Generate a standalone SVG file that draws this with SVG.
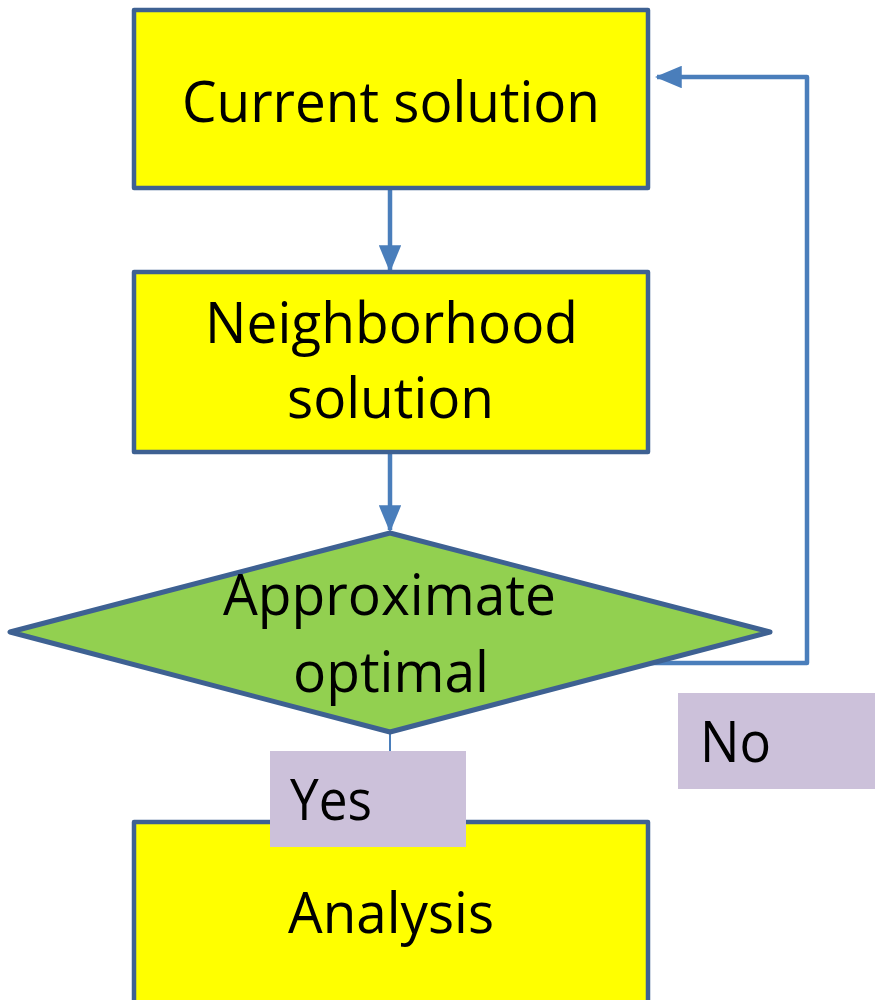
<svg xmlns="http://www.w3.org/2000/svg" width="875" height="1000" viewBox="0 0 875 1000">
<style>
.box{fill:#FFFF00;stroke:#3E6192;stroke-width:4.5;stroke-linejoin:round}
.dia{fill:#92D050;stroke:#3E6192;stroke-width:5;stroke-linejoin:round}
.lbl{fill:#CCC1DA}
.t{font-family:"Open Sans","Noto Sans",sans-serif;font-size:57px;fill:#000}
.c{fill:none;stroke:#4A7EBB;stroke-width:4.5}
</style>
<defs>
<marker id="ah" markerWidth="6" markerHeight="5" refX="5.5" refY="2.5" orient="auto" markerUnits="strokeWidth">
<path d="M0,0 L6,2.5 L0,5 z" fill="#4A7EBB"/>
</marker>
</defs>
<g id="connectors">
<line class="c" x1="390" y1="190" x2="390" y2="270" marker-end="url(#ah)"/>
<line class="c" x1="390" y1="454" x2="390" y2="530" marker-end="url(#ah)"/>
<polyline class="c" points="650,663 807,663 807,77 657,77" stroke-linejoin="round" marker-end="url(#ah)"/>
<line x1="390" y1="732" x2="390" y2="752" stroke="#4A7EBB" stroke-width="2"/>
</g>
<g id="current">
<rect class="box" x="134" y="10" width="514" height="178"/>
<text class="t" x="182" y="122" textLength="418" lengthAdjust="spacingAndGlyphs">Current solution</text>
</g>
<g id="neighborhood">
<rect class="box" x="134" y="272" width="514" height="180"/>
<text class="t" x="205" y="343" textLength="373" lengthAdjust="spacingAndGlyphs">Neighborhood</text>
<text class="t" x="287" y="418" textLength="207" lengthAdjust="spacingAndGlyphs">solution</text>
</g>
<g id="analysis">
<rect class="box" x="134" y="822" width="514" height="184"/>
<text class="t" x="288" y="933" textLength="206" lengthAdjust="spacingAndGlyphs">Analysis</text>
</g>
<g id="decision">
<polygon class="dia" points="390,533 770,632 390,732 10,632"/>
<text class="t" x="223" y="615" textLength="333" lengthAdjust="spacingAndGlyphs">Approximate</text>
<text class="t" x="293" y="692" textLength="196" lengthAdjust="spacingAndGlyphs">optimal</text>
</g>
<g id="yes">
<rect class="lbl" x="270" y="751" width="196" height="96"/>
<text class="t" x="290" y="820" textLength="82" lengthAdjust="spacingAndGlyphs">Yes</text>
</g>
<g id="no">
<rect class="lbl" x="678" y="693" width="197" height="96"/>
<text class="t" x="700" y="762" textLength="71" lengthAdjust="spacingAndGlyphs">No</text>
</g>
</svg>
